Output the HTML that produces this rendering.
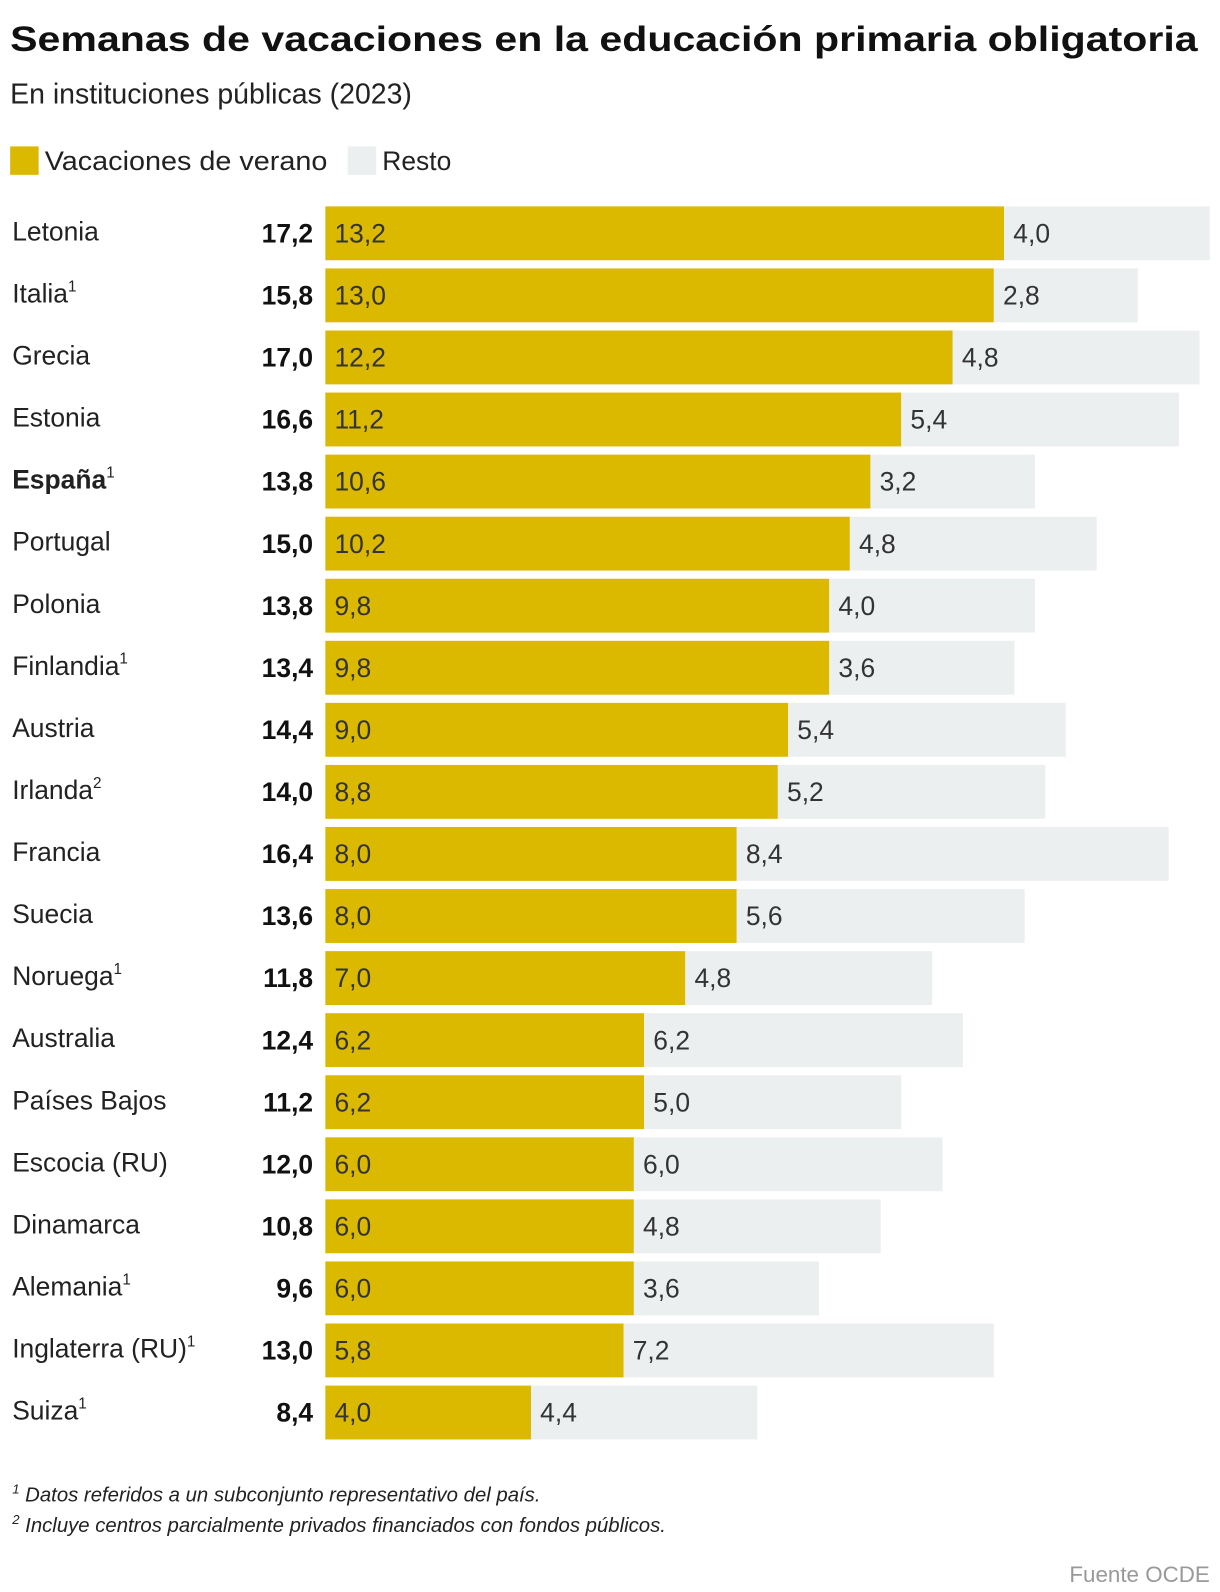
<!DOCTYPE html>
<html><head><meta charset="utf-8">
<style>
html,body{margin:0;padding:0;background:#fff;}
svg{display:block;font-family:"Liberation Sans",sans-serif;}
</style></head>
<body>
<svg id="chart" width="1220" height="1592" viewBox="0 0 1200 1566" preserveAspectRatio="none">
<text x="10" y="50" font-size="35" font-weight="bold" fill="#111" textLength="1168" lengthAdjust="spacingAndGlyphs">Semanas de vacaciones en la educación primaria obligatoria</text>
<text x="10" y="102" font-size="28" fill="#222">En instituciones públicas (2023)</text>
<g>
<rect x="10" y="144" width="28" height="28" fill="#dbb900"/>
<text x="44" y="167" font-size="26" fill="#222" textLength="278" lengthAdjust="spacingAndGlyphs">Vacaciones de verano</text>
<rect x="342" y="144" width="28" height="28" fill="#eceff0"/>
<text x="376" y="167" font-size="26" fill="#222">Resto</text>
</g>
<g id="bars"></g>
<text x="12" y="1477" font-size="20" font-style="italic" fill="#222"><tspan font-size="13" dy="-8">1</tspan><tspan dy="8"> Datos referidos a un subconjunto representativo del país.</tspan></text>
<text x="12" y="1507" font-size="20" font-style="italic" fill="#222"><tspan font-size="13" dy="-8">2</tspan><tspan dy="8"> Incluye centros parcialmente privados financiados con fondos públicos.</tspan></text>
<text x="1190" y="1556" font-size="22" fill="#999" text-anchor="end">Fuente OCDE</text>
</svg>
<script>
const countries=["Letonia","Italia","Grecia","Estonia","España","Portugal","Polonia","Finlandia","Austria","Irlanda","Francia","Suecia","Noruega","Australia","Países Bajos","Escocia (RU)","Dinamarca","Alemania","Inglaterra (RU)","Suiza"];
const notes=["","1","","","1","","","1","","2","","","1","","","","","1","1","1"];
const summer=[13.2,13.0,12.2,11.2,10.6,10.2,9.8,9.8,9.0,8.8,8.0,8.0,7.0,6.2,6.2,6.0,6.0,6.0,5.8,4.0];
const rest=[4.0,2.8,4.8,5.4,3.2,4.8,4.0,3.6,5.4,5.2,8.4,5.6,4.8,6.2,5.0,6.0,4.8,3.6,7.2,4.4];
const NS="http://www.w3.org/2000/svg";
const g=document.getElementById('bars');
const x0=320, scale=870/17.2;
const xs=v=>v*scale;
const y=i=>203+i*61.05;
const bh=53;
const fmt=v=>v.toFixed(1).replace('.',',');
function mk(tag,attrs,text){const e=document.createElementNS(NS,tag);for(const k in attrs)e.setAttribute(k,attrs[k]);if(text!==undefined)e.textContent=text;return e;}
countries.forEach((c,i)=>{
  const yy=y(i), cy=yy+bh/2+9;
  const lab=mk('text',{x:12,y:cy-2,'font-size':26,fill:'#222','font-weight':c==='España'?'bold':'normal'},c);
  
  
  if(notes[i]){const t=mk('tspan',{'font-size':15,dy:-11,'font-weight':'normal'},notes[i]);lab.appendChild(t);}
  g.appendChild(lab);
  const tot=mk('text',{x:308,y:cy,'font-size':26,'font-weight':'bold',fill:'#111','text-anchor':'end'},fmt(summer[i]+rest[i]));
  
  
  g.appendChild(tot);
  const r1=mk('rect',{x:x0,y:yy,width:xs(summer[i]),height:bh,fill:'#dbb900'});
  
  
  g.appendChild(r1);
  const r2=mk('rect',{x:x0+xs(summer[i]),y:yy,width:xs(rest[i]),height:bh,fill:'#eceff0'});
  
  
  g.appendChild(r2);
  const t1=mk('text',{x:x0+9,y:cy,'font-size':26,fill:'#333'},fmt(summer[i]));
  
  
  g.appendChild(t1);
  const t2=mk('text',{x:x0+xs(summer[i])+9,y:cy,'font-size':26,fill:'#333'},fmt(rest[i]));
  
  
  g.appendChild(t2);
});
</script>
</body></html>
